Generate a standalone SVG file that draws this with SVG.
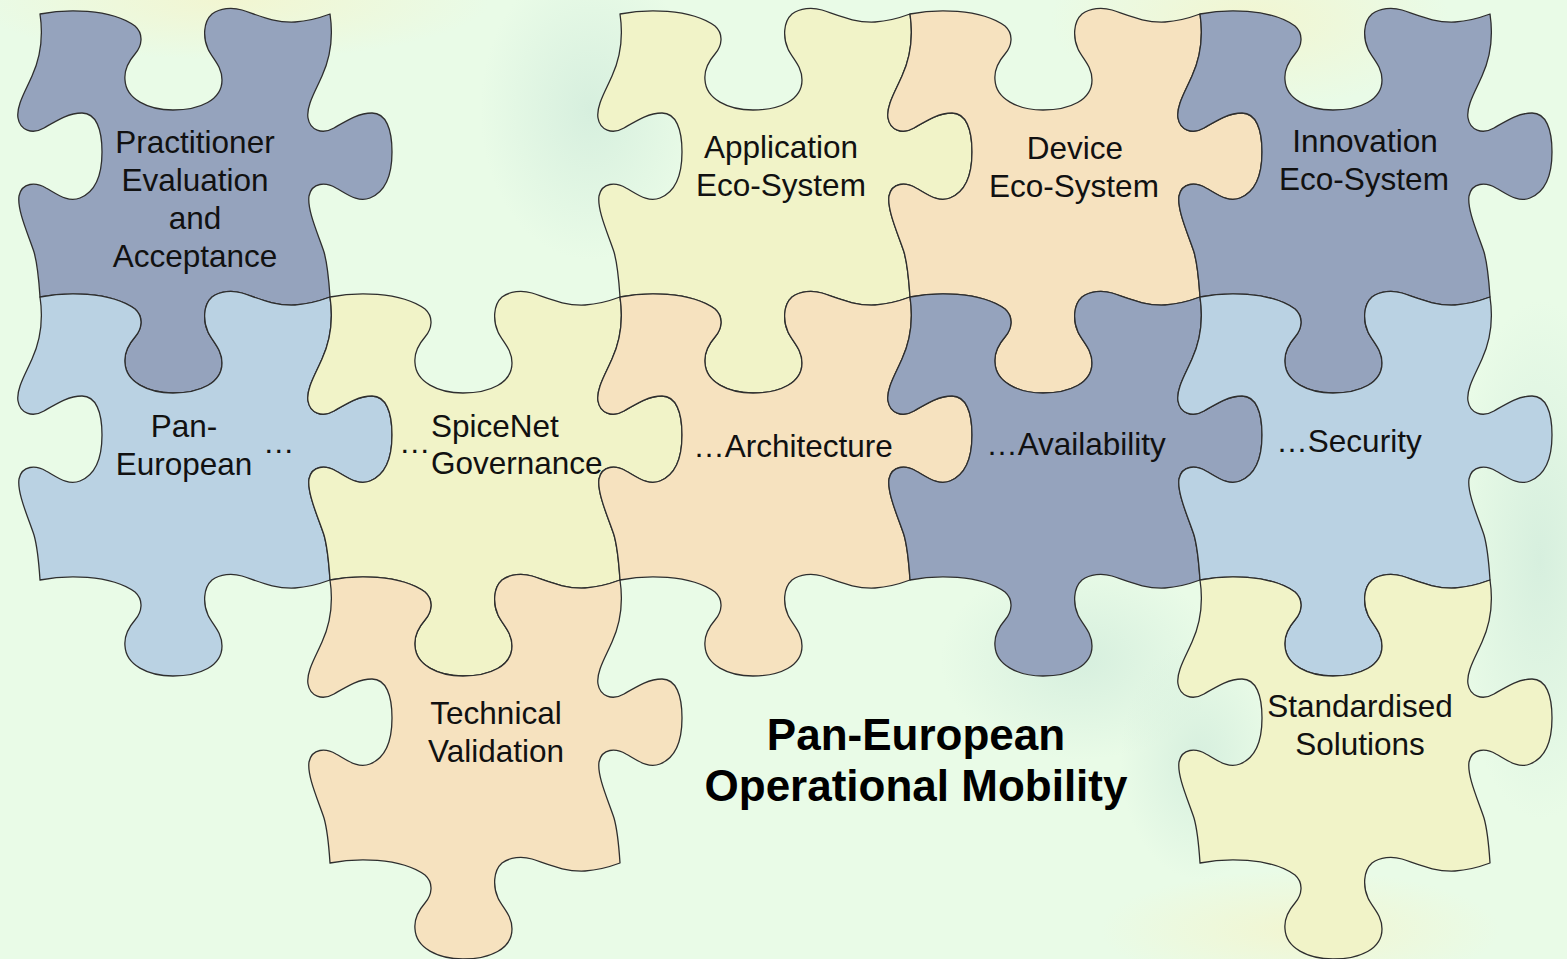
<svg xmlns="http://www.w3.org/2000/svg" xmlns:xlink="http://www.w3.org/1999/xlink" width="1567" height="959" viewBox="0 0 1567 959">
<defs>
<style>
.pc{stroke:#2e2e2e;stroke-width:1.3;stroke-linejoin:round}
.dark{fill:#95a3bd}
.light{fill:#bad2e3}
.yel{fill:#f1f3c8}
.peach{fill:#f6e2bf}
.t{font-family:"Liberation Sans",Arial,Helvetica,sans-serif;font-size:31.5px;fill:#111}
.c{text-anchor:middle}
.title{font-family:"Liberation Sans",Arial,Helvetica,sans-serif;font-size:44px;font-weight:bold;fill:#000;text-anchor:middle}
</style>
<radialGradient id="gy" cx="0.5" cy="0.5" r="0.5">
<stop offset="0" stop-color="#f3f5cf" stop-opacity="0.9"/>
<stop offset="1" stop-color="#f3f5cf" stop-opacity="0"/>
</radialGradient>
<radialGradient id="gg" cx="0.5" cy="0.5" r="0.5">
<stop offset="0" stop-color="#d2ecdc" stop-opacity="0.8"/>
<stop offset="1" stop-color="#d2ecdc" stop-opacity="0"/>
</radialGradient>
<path id="piece" d="M0,0 C25,-5 70,-6 95,12 C104,20 102,32 95,40 C88,48 84,56 85,66 C86,85 108,96 133,96 C160,96 182,86 182,66 C182,52 172,44 168,35 C163,24 163,8 172,0 C180,-6 192,-7 202,-4 C220,2 235,9 255,8 C270,7 282,3 290,0 C293,20 292,40 282,62 C276,76 266,92 268,104 C270,116 282,121 294,114 C306,107 318,99 332,99 C346,99 352,115 352,138 C352,162 345,178 330,184 C318,189 307,180 296,174 C286,168 272,168 269,182 C267,196 278,220 284,238 C288,252 289,268 290,283 C282,286 270,290 255,291 C235,292 220,285 202,279 C192,276 180,277 172,283 C163,291 163,307 168,318 C172,327 182,335 182,349 C182,369 160,379 133,379 C108,379 86,368 85,349 C84,339 88,331 95,323 C102,315 104,303 95,295 C70,277 25,278 0,283 C-1,268 -2,252 -6,238 C-12,220 -23,196 -21,182 C-18,168 -4,168 6,174 C17,180 28,189 40,184 C55,178 62,162 62,138 C62,115 56,99 42,99 C28,99 16,107 4,114 C-8,121 -20,116 -22,104 C-24,92 -14,76 -8,62 C2,40 3,20 0,0 Z"/>
</defs>
<g id="background">
<rect x="0" y="0" width="1567" height="959" fill="#e9fbe7"/>
<ellipse cx="230" cy="0" rx="260" ry="60" fill="url(#gy)"/>
<ellipse cx="1250" cy="20" rx="200" ry="90" fill="url(#gy)"/>
<ellipse cx="590" cy="110" rx="110" ry="150" fill="url(#gg)"/>
<ellipse cx="1080" cy="660" rx="140" ry="100" fill="url(#gg)"/>
<ellipse cx="1540" cy="560" rx="90" ry="260" fill="url(#gg)"/>
<ellipse cx="1200" cy="760" rx="80" ry="120" fill="url(#gg)"/>
<ellipse cx="1300" cy="930" rx="200" ry="60" fill="url(#gy)"/>
</g>
<g id="p-practitioner">
<use xlink:href="#piece" href="#piece" class="pc dark" x="40" y="14"/>
<text class="t c" x="195" y="153">Practitioner</text>
<text class="t c" x="195" y="191">Evaluation</text>
<text class="t c" x="195" y="229">and</text>
<text class="t c" x="195" y="267">Acceptance</text>
</g>
<g id="p-application">
<use xlink:href="#piece" href="#piece" class="pc yel" x="620" y="14"/>
<text class="t c" x="781" y="158">Application</text>
<text class="t c" x="781" y="196">Eco-System</text>
</g>
<g id="p-device">
<use xlink:href="#piece" href="#piece" class="pc peach" x="910" y="14"/>
<text class="t c" x="1075" y="159">Device</text>
<text class="t c" x="1074" y="197">Eco-System</text>
</g>
<g id="p-innovation">
<use xlink:href="#piece" href="#piece" class="pc dark" x="1200" y="14"/>
<text class="t c" x="1365" y="152">Innovation</text>
<text class="t c" x="1364" y="190">Eco-System</text>
</g>
<g id="p-paneuropean">
<use xlink:href="#piece" href="#piece" class="pc light" x="40" y="297"/>
<text class="t c" x="184" y="437">Pan-</text>
<text class="t c" x="184" y="475">European</text>
<text class="t" x="263" y="453">…</text>
</g>
<g id="p-spicenet">
<use xlink:href="#piece" href="#piece" class="pc yel" x="330" y="297"/>
<text class="t" x="399" y="453">…</text>
<text class="t" x="431" y="437">SpiceNet</text>
<text class="t" x="431" y="474">Governance</text>
</g>
<g id="p-architecture">
<use xlink:href="#piece" href="#piece" class="pc peach" x="620" y="297"/>
<text class="t c" x="793" y="457">…Architecture</text>
</g>
<g id="p-availability">
<use xlink:href="#piece" href="#piece" class="pc dark" x="910" y="297"/>
<text class="t c" x="1076" y="455">…Availability</text>
</g>
<g id="p-security">
<use xlink:href="#piece" href="#piece" class="pc light" x="1200" y="297"/>
<text class="t c" x="1349" y="452">…Security</text>
</g>
<g id="p-technical">
<use xlink:href="#piece" href="#piece" class="pc peach" x="330" y="580"/>
<text class="t c" x="496" y="724">Technical</text>
<text class="t c" x="496" y="762">Validation</text>
</g>
<g id="p-standardised">
<use xlink:href="#piece" href="#piece" class="pc yel" x="1200" y="580"/>
<text class="t c" x="1360" y="717">Standardised</text>
<text class="t c" x="1360" y="755">Solutions</text>
</g>
<g id="title">
<text class="title" x="916" y="750">Pan-European</text>
<text class="title" x="916" y="801">Operational Mobility</text>
</g>
<g id="connectors"/>
</svg>
